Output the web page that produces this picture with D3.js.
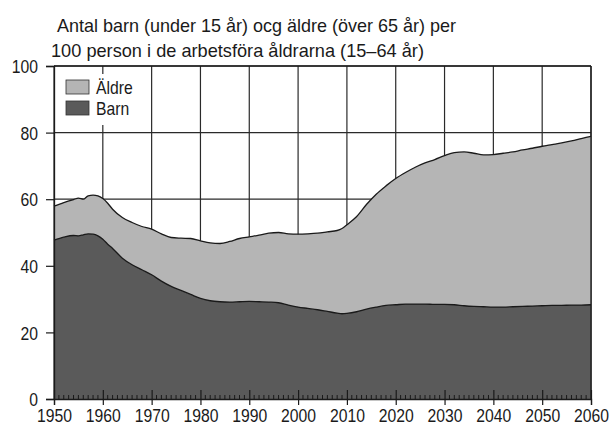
<!DOCTYPE html>
<html><head><meta charset="utf-8">
<script src="https://cdn.jsdelivr.net/npm/d3@7"></script>
<style>
html,body{margin:0;padding:0;background:#fff;}
svg{display:block;}
text{font-family:"Liberation Sans",Arial,sans-serif;fill:#1a1a1a;}
</style></head>
<body>
<svg id="chart" width="615" height="426"></svg>
<script>
const titleLines = ["Antal barn (under 15 år) ocg äldre (över 65 år) per", "100 person i de arbetsföra åldrarna (15–64 år)"];
const seriesNames = ["Barn", "Äldre"];
const legendOrder = ["Äldre", "Barn"];
const years = [1950,1952,1954,1955,1956,1957,1958,1959,1960,1961,1962,1964,1966,1968,1970,1972,1974,1976,1978,1980,1982,1984,1986,1988,1990,1992,1994,1996,1998,2000,2002,2004,2006,2008,2009,2010,2012,2014,2016,2018,2020,2022,2024,2026,2028,2030,2032,2034,2036,2038,2040,2042,2044,2046,2048,2050,2052,2054,2056,2058,2060];
const barn = [47.7,48.6,49.1,49.0,49.3,49.6,49.5,49.0,48.0,46.5,45.2,42.3,40.3,38.8,37.3,35.4,33.8,32.6,31.4,30.2,29.5,29.2,29.1,29.2,29.3,29.2,29.1,28.9,28.2,27.6,27.2,26.8,26.3,25.8,25.6,25.7,26.2,27.0,27.6,28.1,28.3,28.5,28.5,28.5,28.4,28.4,28.3,28.0,27.8,27.7,27.6,27.6,27.7,27.8,27.9,28.0,28.1,28.1,28.2,28.2,28.3];
const aldre = [10.2,10.4,10.8,11.3,10.7,11.4,11.7,12.0,12.2,12.3,11.8,12.2,12.7,13.0,13.7,14.2,14.7,15.7,16.8,17.3,17.4,17.5,18.2,19.0,19.4,20.0,20.7,21.1,21.4,21.9,22.4,23.0,23.9,24.8,25.6,26.6,28.6,31.4,33.9,35.9,37.9,39.5,41.1,42.4,43.5,44.7,45.7,46.2,46.0,45.6,45.8,46.2,46.5,47.0,47.4,47.9,48.3,48.8,49.3,50.0,50.6];
const yTicks = [0,20,40,60,80,100];
const xTicks = [1950,1960,1970,1980,1990,2000,2010,2020,2030,2040,2050,2060];

const colors = {"Barn":"#5a5a5a","Äldre":"#b5b5b5"};
const FS = 18.5, SQ = 0.85;
const svg = d3.select("#chart");
const L = 54, R = 591, T = 66, B = 399;
const x = d3.scaleLinear().domain([1950,2060]).range([L,R]);
const y = d3.scaleLinear().domain([0,100]).range([B,T]);

function squeeze(sel, w){
  sel.each(function(){
    const n = this.getComputedTextLength();
    this.setAttribute("textLength", w != null ? w : n*SQ);
    this.setAttribute("lengthAdjust","spacingAndGlyphs");
  });
}

const table = years.map((yr,i)=>({year:yr, "Barn":barn[i], "Äldre":aldre[i]}));
const stacked = d3.stack().keys(seriesNames)(table);

// title
squeeze(svg.append("text").attr("x",57).attr("y",31.5).attr("font-size",FS).text(titleLines[0]), 399);
squeeze(svg.append("text").attr("x",51).attr("y",56.5).attr("font-size",FS).text(titleLines[1]), 373);

// grid
const grid = svg.append("g").attr("stroke","#2a2a2a").attr("stroke-width",1.2);
yTicks.forEach(v=>grid.append("line").attr("x1",L).attr("x2",R).attr("y1",y(v)).attr("y2",y(v)));
xTicks.forEach(v=>grid.append("line").attr("x1",x(v)).attr("x2",x(v)).attr("y1",T).attr("y2",B));

// areas
const area = d3.area().x(d=>x(d.data.year)).y0(d=>y(d[0])).y1(d=>y(d[1])).curve(d3.curveMonotoneX);
const line = d3.line().x(d=>x(d.data.year)).y(d=>y(d[1])).curve(d3.curveMonotoneX);
stacked.slice().reverse().forEach(s=>{
  svg.append("path").attr("d",area(s)).attr("fill",colors[s.key]);
});
stacked.forEach(s=>{
  svg.append("path").attr("d",line(s)).attr("fill","none").attr("stroke","#1a1a1a").attr("stroke-width",1.3);
});

// minor year ticks along baseline
const minor = svg.append("g").attr("stroke","#1a1a1a").attr("stroke-width",1);
d3.range(1951,2060).forEach(v=>{ if(v%10) minor.append("line").attr("x1",x(v)).attr("x2",x(v)).attr("y1",B-4).attr("y2",B); });

// frame
svg.append("line").attr("x1",R).attr("x2",R).attr("y1",T).attr("y2",B).attr("stroke","#1a1a1a").attr("stroke-width",1.3);
svg.append("line").attr("x1",L).attr("x2",R).attr("y1",T).attr("y2",T).attr("stroke","#1a1a1a").attr("stroke-width",1.3);

// axes
const yAxis = d3.axisLeft(y).tickValues(yTicks).tickSize(8).tickPadding(8);
const gy = svg.append("g").attr("transform",`translate(${L},0)`).call(yAxis);
gy.select(".domain").attr("stroke","#1a1a1a").attr("stroke-width",1.3);
gy.selectAll(".tick line").attr("stroke","#1a1a1a").attr("stroke-width",1.2);
gy.selectAll("text").attr("font-size",FS).attr("font-family",null).attr("fill","#1a1a1a").attr("dy","0.36em");
squeeze(gy.selectAll("text"));

const xAxis = d3.axisBottom(x).tickValues(xTicks).tickFormat(d3.format("d")).tickSize(6);
const gx = svg.append("g").attr("transform",`translate(0,${B})`).call(xAxis);
gx.select(".domain").attr("stroke","#1a1a1a").attr("stroke-width",1.3);
gx.selectAll(".tick line").attr("stroke","#1a1a1a").attr("stroke-width",1.2).attr("y1",-9);
gx.selectAll("text").attr("font-size",18).attr("font-family",null).attr("fill","#1a1a1a").attr("y",22.5).attr("dy",null);
squeeze(gx.selectAll("text"), 35);

// legend
const lg = svg.append("g");
lg.append("rect").attr("x",56).attr("y",74).attr("width",84).attr("height",51).attr("fill","#fff");
legendOrder.forEach((k,i)=>{
  const yy = 80 + i*21;
  lg.append("rect").attr("x",66).attr("y",yy).attr("width",23).attr("height",14).attr("fill",colors[k]).attr("stroke","#333").attr("stroke-width",0.8);
  squeeze(lg.append("text").attr("x",96).attr("y",yy+13.5).attr("font-size",FS).text(k));
});
</script>
</body></html>
